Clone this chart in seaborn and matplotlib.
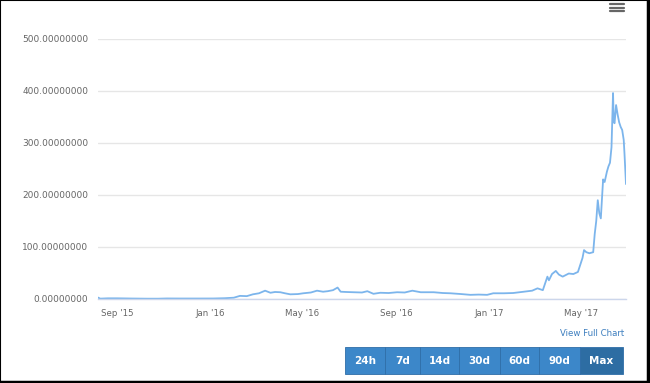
import pandas as pd
import matplotlib.pyplot as plt
import seaborn as sns
from matplotlib.patches import Rectangle
from matplotlib.lines import Line2D

# Price history
dates = [
    "2015-08-07", "2015-08-10", "2015-08-20", "2015-09-01", "2015-09-20", "2015-10-10",
    "2015-10-25", "2015-11-05", "2015-11-20", "2015-12-05", "2015-12-20", "2016-01-05",
    "2016-01-20", "2016-02-01", "2016-02-09", "2016-02-18", "2016-02-26", "2016-03-05",
    "2016-03-13", "2016-03-20", "2016-03-26", "2016-04-02", "2016-04-08", "2016-04-15",
    "2016-04-25", "2016-05-02", "2016-05-12", "2016-05-20", "2016-05-28", "2016-06-03",
    "2016-06-10", "2016-06-16", "2016-06-20", "2016-06-27", "2016-07-07", "2016-07-18",
    "2016-07-25", "2016-08-02", "2016-08-11", "2016-08-22", "2016-09-02", "2016-09-12",
    "2016-09-22", "2016-10-03", "2016-10-20", "2016-11-01", "2016-11-11", "2016-11-25",
    "2016-12-07", "2016-12-18", "2016-12-29", "2017-01-06", "2017-01-20", "2017-02-01",
    "2017-02-15", "2017-02-26", "2017-03-05", "2017-03-12", "2017-03-15", "2017-03-18",
    "2017-03-20", "2017-03-24", "2017-03-29", "2017-04-02", "2017-04-07", "2017-04-15",
    "2017-04-21", "2017-04-27", "2017-05-01", "2017-05-03", "2017-05-05", "2017-05-08",
    "2017-05-12", "2017-05-17", "2017-05-19", "2017-05-21", "2017-05-23", "2017-05-25",
    "2017-05-27", "2017-05-30", "2017-06-01", "2017-06-04", "2017-06-06", "2017-06-08",
    "2017-06-10", "2017-06-12", "2017-06-13", "2017-06-14", "2017-06-16", "2017-06-18",
    "2017-06-20", "2017-06-22", "2017-06-24", "2017-06-26", "2017-06-27", "2017-06-29",
]
prices = [
    2.8, 0.7, 1.3, 1.3, 0.9, 0.6,
    0.6, 1.0, 0.9, 0.9, 0.9, 0.95,
    1.5, 2.5, 6, 5.5, 9, 11,
    16, 12, 13.5, 13, 11, 9,
    9.5, 11, 12.5, 16, 14, 15,
    17, 22, 14, 13.5, 13, 12.5,
    15, 10, 12, 11.5, 13, 12.5,
    16, 13, 13, 11.5, 11, 9.5,
    8, 8.5, 8, 11, 11, 11.5,
    14, 16, 20.5, 17, 30, 43,
    36, 48, 54, 47, 43, 49,
    48, 52, 70, 79, 94, 90,
    88, 90, 125, 150, 190, 165,
    155, 230, 225, 245, 255, 262,
    292, 396, 340, 338, 373, 355,
    340, 331, 325, 306, 280, 221,
]
y_ticks = [0, 100, 200, 300, 400, 500]
x_ticks = ["2015-09-01", "2016-01-01", "2016-05-01", "2016-09-01", "2017-01-01", "2017-05-01"]
x_labels = ["Sep '15", "Jan '16", "May '16", "Sep '16", "Jan '17", "May '17"]
buttons = ["24h", "7d", "14d", "30d", "60d", "90d", "Max"]

df = pd.DataFrame({"date": pd.to_datetime(dates), "price": prices})

sns.set_style("white")
plt.rcParams['font.family'] = ['DejaVu Sans']

fig = plt.figure(figsize=(6.5, 3.83), dpi=100)
ax = fig.add_axes([98 / 650, 1 - 299 / 383, 528 / 650, 260 / 383])

sns.lineplot(data=df, x="date", y="price", ax=ax, color="#7cb5ec", linewidth=1.3)

ax.set_xlim(pd.Timestamp("2015-08-07"), pd.Timestamp("2017-06-29"))
ax.set_ylim(0, 500)
ax.set_yticks(y_ticks)
ax.set_yticklabels([f"{v:.8f}" for v in y_ticks])
ax.set_xticks(pd.to_datetime(x_ticks))
ax.set_xticklabels(x_labels)
ax.set_xlabel("")
ax.set_ylabel("")
ax.grid(axis="y", color="#e6e6e6", linewidth=1)
ax.set_axisbelow(True)

for s in ["left", "right", "top"]:
    ax.spines[s].set_visible(False)
ax.spines["bottom"].set_color("#ccd6eb")
ax.spines["bottom"].set_linewidth(1)
ax.tick_params(axis="y", length=0, pad=7, labelsize=6.5, labelcolor="#666666")
ax.tick_params(axis="x", length=5, width=1, color="#ccd6eb", pad=2, labelsize=6.2, labelcolor="#666666")

# menu icon
for yy in [4, 7.5, 11]:
    fig.add_artist(Line2D([610 / 650, 624 / 650], [1 - yy / 383] * 2, color="#666666", linewidth=1.6))

# link and range buttons
fig.text(624 / 650, 1 - 334 / 383, "View Full Chart", color="#3d7ebf", fontsize=6.2,
         ha="right", va="center")
edges = [345, 385, 420, 459, 500, 539, 580, 623]
for i, label in enumerate(buttons):
    x0, x1 = edges[i], edges[i + 1]
    col = "#2d6da3" if label == "Max" else "#3c87c9"
    fig.add_artist(Rectangle((x0 / 650, 1 - 374 / 383), (x1 - x0) / 650, 27 / 383,
                             facecolor=col, edgecolor="#2f6ea8", linewidth=0.6))
    fig.text((x0 + x1) / 2 / 650, 1 - 360.5 / 383, label, color="white", fontsize=7.5,
             fontweight="bold", ha="center", va="center")

# black frame, heavier on the right and bottom
fig.add_artist(Rectangle((0, 0), 1, 1, transform=fig.transFigure, fill=False,
                         edgecolor="black", linewidth=1.5))
fig.add_artist(Line2D([647.5 / 650, 647.5 / 650], [0, 1], color="black", linewidth=2.5))
fig.add_artist(Line2D([0, 1], [1 - 381.5 / 383] * 2, color="black", linewidth=2.5))

fig.savefig("out.png", dpi=100)
